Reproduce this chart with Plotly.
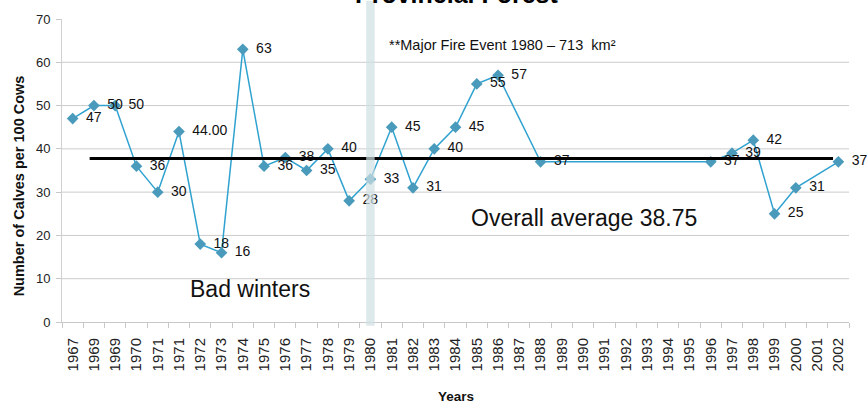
import plotly.graph_objects as go

# ---- data ----
TICK_LABELS = ["1967", "1969", "1969", "1970", "1971", "1971", "1972", "1973", "1974",
               "1975", "1976", "1977", "1978", "1979", "1980", "1981", "1982", "1983",
               "1984", "1985", "1986", "1987", "1988", "1989", "1990", "1991", "1992",
               "1993", "1994", "1995", "1996", "1997", "1998", "1999", "2000", "2001", "2002"]
CALVES = [47, 50, 50, 36, 30, 44, 18, 16, 63, 36, 38, 35, 40, 28, 33, 45, 31, 40,
          45, 55, 57, None, 37, None, None, None, None, None, None, None, 37, 39, 42,
          25, 31, None, 37]
POINT_LABELS = ["47", "50", "50", "36", "30", "44.00", "18", "16", "63", "36", "38", "35",
                "40", "28", "33", "45", "31", "40", "45", "55", "57", "", "37", "", "", "",
                "", "", "", "", "37", "39", "42", "25", "31", "", "37"]
AVERAGE_LINE = 37.8
Y_TICKS = [0, 10, 20, 30, 40, 50, 60, 70]
GRID_LINES = [10, 20, 30, 40, 50, 60]
FIRE_INDEX = 14  # 1980

FONT = "Liberation Sans, Arial, sans-serif"
x = list(range(len(TICK_LABELS)))
label_text = ["\u00a0\u2009" + s if s else "" for s in POINT_LABELS]

fig = go.Figure()
fig.add_trace(go.Scatter(
    x=x, y=CALVES, mode="lines+markers+text", connectgaps=True,
    text=label_text, textposition="middle right",
    textfont=dict(family=FONT, size=14, color="#111111"),
    line=dict(color="#30a2d0", width=1.5),
    marker=dict(symbol="diamond", size=9, color="#4a9bbb"),
    cliponaxis=False, showlegend=False,
))

shapes = []
for g in GRID_LINES:
    shapes.append(dict(type="line", xref="paper", yref="y", x0=0, x1=1, y0=g, y1=g,
                       line=dict(color="#cccccc", width=1), layer="below"))
# overall average line
shapes.append(dict(type="line", xref="x", yref="y", x0=0.8, x1=35.75,
                   y0=AVERAGE_LINE, y1=AVERAGE_LINE,
                   line=dict(color="#000000", width=3), layer="above"))
# fire event band
shapes.append(dict(type="rect", xref="x", yref="paper", x0=FIRE_INDEX - 0.2, x1=FIRE_INDEX + 0.2,
                   y0=-0.012, y1=1.06, fillcolor="#d0e0e4", opacity=0.7,
                   line=dict(width=0), layer="above"))

annotations = [
    dict(text="<b>Provincial Forest</b>", xref="paper", yref="paper", x=0.502, y=1.031,
         xanchor="center", yanchor="bottom", showarrow=False,
         font=dict(family=FONT, size=25, color="#000000")),
    dict(text="**Major Fire Event 1980 – 713 \u00a0km²", xref="paper", yref="paper",
         x=0.4126, y=0.9135, xanchor="left", yanchor="middle", showarrow=False,
         font=dict(family=FONT, size=14.5, color="#111111")),
    dict(text="Overall average 38.75", xref="paper", yref="paper", x=0.6635, y=0.3448,
         xanchor="center", yanchor="middle", showarrow=False,
         font=dict(family=FONT, size=23, color="#111111")),
    dict(text="Bad winters", xref="paper", yref="paper", x=0.2385, y=0.1077,
         xanchor="center", yanchor="middle", showarrow=False,
         font=dict(family=FONT, size=23, color="#111111")),
    dict(text="<b>Number of Calves per 100 Cows</b>", xref="paper", yref="paper",
         x=-0.055, y=0.45, xanchor="center", yanchor="middle", textangle=-90,
         showarrow=False, font=dict(family=FONT, size=14.5, color="#111111")),
    dict(text="<b>Years</b>", xref="paper", yref="paper", x=0.5003, y=-0.247,
         xanchor="center", yanchor="middle", showarrow=False,
         font=dict(family=FONT, size=13.5, color="#111111")),
]

fig.update_layout(
    width=867, height=410,
    margin=dict(l=62, r=18, t=16, b=88),
    paper_bgcolor="white", plot_bgcolor="white",
    font=dict(family=FONT),
    shapes=shapes, annotations=annotations,
    xaxis=dict(
        range=[-0.5, len(TICK_LABELS) - 0.5], tickmode="array", tickvals=x,
        ticktext=TICK_LABELS, tickangle=-90, ticks="", showgrid=False,
        showline=True, linecolor="#c8c8c8", linewidth=1, zeroline=False,
        tickfont=dict(family=FONT, size=15, color="#222222"),
        ticklabelstandoff=9,
        minor=dict(tickmode="array", tickvals=[i - 0.5 for i in range(len(TICK_LABELS) + 1)],
                   ticks="outside", ticklen=5, tickcolor="#c8c8c8", showgrid=False),
    ),
    yaxis=dict(
        range=[0, 70], tickmode="array", tickvals=Y_TICKS, showgrid=False,
        zeroline=False, showline=True, linecolor="#d0d0d0", linewidth=1,
        ticks="outside", ticklen=5, tickcolor="#c8c8c8",
        tickfont=dict(family=FONT, size=13, color="#222222"),
        ticklabelstandoff=3,
    ),
)

fig.write_html("out.html")
